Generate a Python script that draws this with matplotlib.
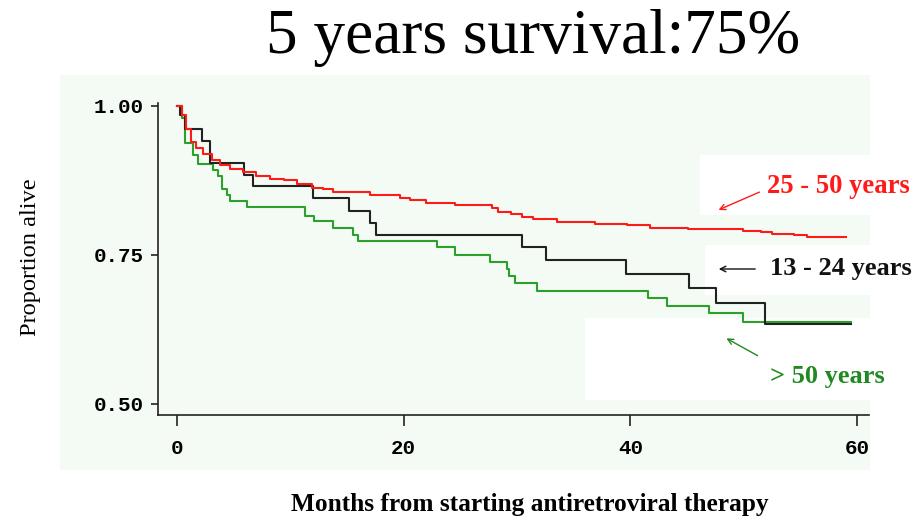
import matplotlib
matplotlib.use("Agg")
import matplotlib.pyplot as plt
from matplotlib.patches import Rectangle

# ---- data (months, proportion alive) ----
red_t = [0, 0.4, 0.8, 1.2, 1.7, 2.3, 3.05, 3.8, 4.7, 5.85, 7.0, 8.2, 9.4, 10.55, 11.95,
         12.9, 13.8, 17.0, 19.7, 20.6, 22.0, 24.5, 27.8, 28.3, 29.5, 30.4, 31.4, 33.5,
         36.9, 39.7, 41.7, 45.1, 49.95, 51.5, 52.5, 54.4, 55.6, 59.0]
red_s = [1.0, 0.985, 0.961, 0.940, 0.929, 0.919, 0.909, 0.901, 0.895, 0.890, 0.883, 0.877,
         0.875, 0.869, 0.863, 0.860, 0.855, 0.850, 0.846, 0.842, 0.838, 0.834, 0.828, 0.822,
         0.819, 0.814, 0.811, 0.805, 0.802, 0.800, 0.796, 0.794, 0.791, 0.789, 0.786, 0.784,
         0.781, 0.781]

black_t = [0, 0.3, 0.7, 2.2, 2.95, 5.9, 6.7, 12.0, 15.2, 17.0, 17.56, 30.4, 32.6, 39.6,
           45.2, 47.6, 51.9, 59.5]
black_s = [1.0, 0.985, 0.961, 0.941, 0.904, 0.885, 0.865, 0.846, 0.824, 0.804, 0.784,
           0.764, 0.742, 0.718, 0.695, 0.669, 0.634, 0.634]

green_t = [0, 0.47, 0.7, 1.4, 1.85, 3.2, 3.6, 4.0, 4.4, 4.7, 6.2, 11.3, 12.05, 13.8, 15.55,
           16.0, 22.9, 24.5, 27.6, 29.1, 29.3, 29.8, 31.8, 41.6, 43.2, 46.95, 49.95, 59.5]
green_s = [1.0, 0.980, 0.938, 0.918, 0.903, 0.893, 0.883, 0.861, 0.850, 0.841, 0.830, 0.815,
           0.807, 0.796, 0.784, 0.773, 0.763, 0.750, 0.738, 0.726, 0.715, 0.703, 0.690,
           0.677, 0.664, 0.652, 0.638, 0.638]

x_ticks = [0, 20, 40, 60]
y_ticks = [0.50, 0.75, 1.00]
y_tick_labels = ["0.50", "0.75", "1.00"]

W, H = 924, 527
fig = plt.figure(figsize=(W / 100, H / 100), dpi=100)
fig.patch.set_facecolor("white")

def fx(px):
    return px / W

def fy(py):
    return 1 - py / H

# light green backdrop panel
fig.patches.append(Rectangle((fx(60), fy(470)), fx(870) - fx(60), fy(75) - fy(470),
                             transform=fig.transFigure, facecolor="#f4faf4",
                             edgecolor="none", zorder=-10))
# white patches behind annotations
for (x0, y0, x1, y1) in [(700, 155, 924, 215), (705, 245, 924, 295), (585, 318, 924, 400)]:
    fig.patches.append(Rectangle((fx(x0), fy(y1)), fx(x1) - fx(x0), fy(y0) - fy(y1),
                                 transform=fig.transFigure, facecolor="white",
                                 edgecolor="none", zorder=-9))

ax = fig.add_axes([fx(158), fy(415), fx(869) - fx(158), fy(103) - fy(415)])
ax.set_facecolor("none")
ax.set_xlim(-1.68, 61.06)
ax.set_ylim(0.4815, 1.005)

ax.step(green_t, green_s, where="post", color="#2ca02c", lw=1.5, zorder=3)
ax.step(black_t, black_s, where="post", color="#222222", lw=1.5, zorder=4)
ax.step(red_t, red_s, where="post", color="#ff1a1a", lw=1.5, zorder=5)

for s in ["top", "right"]:
    ax.spines[s].set_visible(False)
for s in ["left", "bottom"]:
    ax.spines[s].set_color("#222222")
    ax.spines[s].set_linewidth(1.2)

ax.set_xticks(x_ticks)
ax.set_xticklabels([str(v) for v in x_ticks], family="Liberation Mono", weight="bold",
                   fontsize=15)
ax.set_yticks(y_ticks)
ax.set_yticklabels(y_tick_labels, family="Liberation Mono", weight="bold", fontsize=15)
ax.tick_params(axis="x", length=8, width=1.2, color="#222222", pad=9)
ax.tick_params(axis="y", length=5, width=1.2, color="#222222", pad=5)

# axis titles
fig.text(fx(31), fy(257), "Proportion alive", rotation=90, ha="center", va="center",
         family="Liberation Serif", fontsize=17.6)
fig.text(fx(530), fy(505), "Months from starting antiretroviral therapy", ha="center",
         va="center", family="Liberation Serif", weight="bold", fontsize=18.3)

# title
fig.text(fx(533), fy(38), "5 years survival:75%", ha="center", va="center",
         family="Liberation Serif", fontsize=45.5)

# annotations
fig.text(fx(767), fy(186), "25 - 50 years", ha="left", va="center", color="#ff1a1a",
         family="Liberation Serif", weight="bold", fontsize=19.2)
ax.annotate("", xy=(fx(716), fy(211)), xycoords="figure fraction",
            xytext=(fx(762), fy(191)), textcoords="figure fraction",
            arrowprops=dict(arrowstyle="->", color="#ff1a1a", lw=1.0))

fig.text(fx(770), fy(269), "13 - 24 years", ha="left", va="center", color="#111111",
         family="Liberation Serif", weight="bold", fontsize=19)
ax.annotate("", xy=(fx(716), fy(269)), xycoords="figure fraction",
            xytext=(fx(758), fy(269)), textcoords="figure fraction",
            arrowprops=dict(arrowstyle="->", color="#111111", lw=1.0))

fig.text(fx(770), fy(376), "> 50 years", ha="left", va="center", color="#1f8a1f",
         family="Liberation Serif", weight="bold", fontsize=19)
ax.annotate("", xy=(fx(724), fy(337)), xycoords="figure fraction",
            xytext=(fx(760), fy(357)), textcoords="figure fraction",
            arrowprops=dict(arrowstyle="->", color="#1f8a1f", lw=1.0))

fig.savefig("out.png", dpi=100)
